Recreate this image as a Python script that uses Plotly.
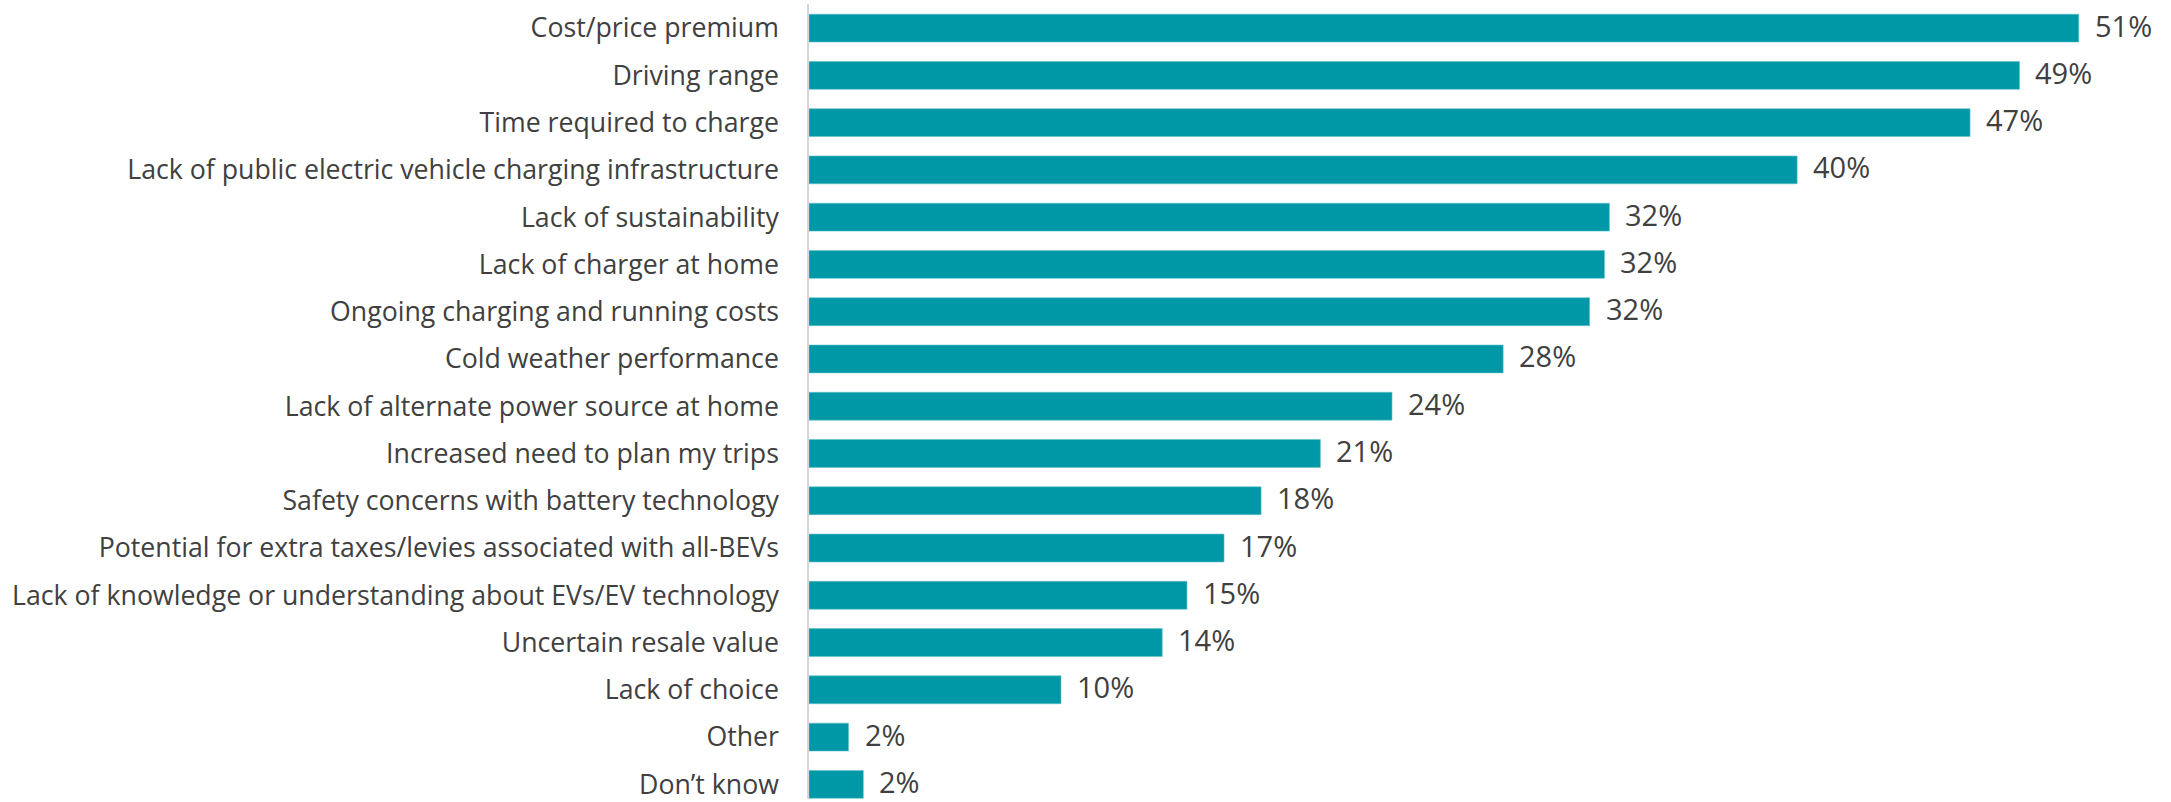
import plotly.graph_objects as go

# Survey: reasons for concern about battery electric vehicles (share of respondents, %)
categories = [
    "Cost/price premium",
    "Driving range",
    "Time required to charge",
    "Lack of public electric vehicle charging infrastructure",
    "Lack of sustainability",
    "Lack of charger at home",
    "Ongoing charging and running costs",
    "Cold weather performance",
    "Lack of alternate power source at home",
    "Increased need to plan my trips",
    "Safety concerns with battery technology",
    "Potential for extra taxes/levies associated with all-BEVs",
    "Lack of knowledge or understanding about EVs/EV technology",
    "Uncertain resale value",
    "Lack of choice",
    "Other",
    "Don\u2019t know",
]
values = [51.4, 49.0, 47.0, 40.0, 32.4, 32.2, 31.6, 28.1, 23.6, 20.7,
          18.3, 16.8, 15.3, 14.3, 10.2, 1.6, 2.2]

BAR_COLOR = "#0097a7"
TEXT_COLOR = "#404040"
FONT = "Open Sans"

fig = go.Figure(
    go.Bar(
        x=values,
        y=categories,
        orientation="h",
        marker=dict(color=BAR_COLOR, line=dict(color="#63c2cc", width=0.6)),
        hoverinfo="skip",
    )
)

# Percentage labels just to the right of each bar
for cat, v in zip(categories, values):
    fig.add_annotation(
        x=v, y=cat, text=f"{round(v)}%",
        xanchor="left", yanchor="middle", xshift=14, yshift=3, showarrow=False,
        font=dict(family=FONT, size=29, color=TEXT_COLOR),
    )

fig.update_layout(
    width=2171, height=802,
    margin=dict(l=809, r=28, t=4, b=0),
    paper_bgcolor="white", plot_bgcolor="white",
    bargap=0.41,
    showlegend=False,
    font=dict(family=FONT, size=26.7, color=TEXT_COLOR),
)
fig.update_xaxes(range=[0, 54], visible=False, showgrid=False, zeroline=False)
fig.update_yaxes(
    type="category",
    categoryorder="array", categoryarray=categories,
    range=[16.31, -0.51],
    showline=True, linecolor="#d6d6d6", linewidth=1.5,
    ticks="outside", ticklen=23, tickcolor="rgba(0,0,0,0)",
    showgrid=False, zeroline=False,
    tickfont=dict(family=FONT, size=26.7, color=TEXT_COLOR),
)

fig.write_html("out.html")
